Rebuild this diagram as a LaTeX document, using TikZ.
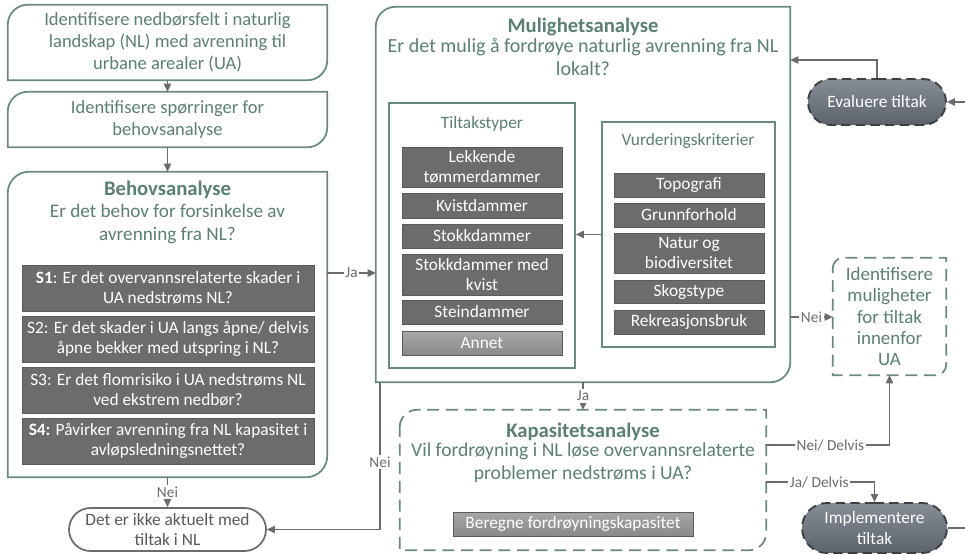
\documentclass[tikz,border=0pt]{standalone}
\usepackage{fontspec}
\setmainfont{Carlito}
\usetikzlibrary{fit,shapes.misc,arrows.meta,calc}

\definecolor{tealline}{HTML}{6A8A80}
\definecolor{tealtext}{HTML}{5A7F73}
\definecolor{itemfill}{HTML}{6C6C6C}
\definecolor{itemedge}{HTML}{5A5A5A}
\definecolor{lighttop}{HTML}{A6A6A6}
\definecolor{lightbot}{HTML}{8A8A8A}
\definecolor{connector}{HTML}{6B6B6B}
\definecolor{pilltop}{HTML}{878D95}
\definecolor{pillbot}{HTML}{5C6269}
\definecolor{pilledge}{HTML}{3C4045}
\definecolor{endtext}{HTML}{595959}

% frame with rounded top-left and bottom-right corners around node #2
\newcommand\cornerframe[3]{%
  \draw[#1] ([yshift=-#3]#2.north west) arc[start angle=180,end angle=90,radius=#3]
    -- (#2.north east) -- ([yshift=#3]#2.south east)
    arc[start angle=0,end angle=-90,radius=#3] -- (#2.south west) -- cycle;}

% node spanning the pixel rectangle (#3,#4)-(#5,#6); its text follows the call
\newcommand\pxbox[6][]{%
  \node[inner sep=0pt, #1, minimum width={(#5-#3)*0.75pt}, minimum height={(#6-#4)*0.75pt}]
    (#2) at ({(#3+#5)/2},{(#4+#6)/2})}

\begin{document}
\begin{tikzpicture}[x=0.75pt,y=-0.75pt,
  txt/.style={text=tealtext, align=center, inner sep=0pt},
  item/.style={fill=itemfill, draw=itemedge, line width=0.6pt, text=white,
    align=center, font=\fontsize{13}{15.2}\selectfont},
  lightitem/.style={item, top color=lighttop, bottom color=lightbot},
  frame/.style={draw=tealline, line width=1.3pt},
  dashframe/.style={frame, dash pattern=on 9pt off 5pt},
  pill/.style={rounded rectangle, draw=pilledge, line width=1.4pt,
    dash pattern=on 7pt off 4pt, top color=pilltop, bottom color=pillbot,
    text=white, align=center, inner sep=0pt, font=\fontsize{13}{15.2}\selectfont},
  conn/.style={draw=connector, line width=1pt},
  arr/.style={conn, -{Triangle[length=6pt,width=5.5pt]}},
  lbl/.style={fill=white, text=connector, inner sep=1.2pt, font=\fontsize{11.5}{13}\selectfont}]

\useasboundingbox (0,0) rectangle (965,554);

% ---------- left column ----------
\pxbox[txt, font=\fontsize{13.9}{16.3}\selectfont]{n1}{8}{5}{327}{80}
  {Identifisere nedbørsfelt i naturlig\\landskap (NL) med avrenning til\\urbane arealer (UA)};
\cornerframe{frame}{n1}{15pt}

\pxbox[txt, font=\fontsize{13.9}{16.3}\selectfont]{n2}{8}{92}{327}{147}
  {Identifisere spørringer for\\behovsanalyse};
\cornerframe{frame}{n2}{15pt}

\node[inner sep=0pt, fit={(8,172)(327,477)}] (nb) {};
\cornerframe{frame}{nb}{16pt}
\node[txt, font=\bfseries\fontsize{15.5}{18}\selectfont] (nbt) at (167.5,190) {Behovsanalyse};
\node[txt, font=\fontsize{14.4}{16.6}\selectfont] (nbq) at (167.5,224)
  {Er det behov for forsinkelse av\\avrenning fra NL?};

\pxbox[item]{s1}{22}{265}{314}{311} {\textbf{S1}: Er det overvannsrelaterte skader i\\UA nedstrøms NL?};
\pxbox[item]{s2}{22}{316}{314}{362} {S2: Er det skader i UA langs åpne/ delvis\\åpne bekker med utspring i NL?};
\pxbox[item]{s3}{22}{367}{314}{413} {S3: Er det flomrisiko i UA nedstrøms NL\\ved ekstrem nedbør?};
\pxbox[item]{s4}{22}{418}{314}{464} {\textbf{S4:} Påvirker avrenning fra NL kapasitet i\\avløpsledningsnettet?};

\pxbox[rounded rectangle, draw=connector, line width=1.3pt, fill=white, text=endtext,
  align=center, font=\fontsize{13}{15.2}\selectfont]{nd}{69}{508}{266}{551}
  {Det er ikke aktuelt med\\tiltak i NL};

% ---------- possibility analysis ----------
\node[inner sep=0pt, fit={(376,7)(790,382)}] (nm) {};
\cornerframe{frame}{nm}{15pt}
\node[txt, font=\bfseries\fontsize{15.5}{18}\selectfont] (nmt) at (583,27) {Mulighetsanalyse};
\node[txt, font=\fontsize{15}{17}\selectfont] (nmq) at (583,57)
  {Er det mulig å fordrøye naturlig avrenning fra NL\\lokalt?};

\node[inner sep=0pt, frame, fit={(389,103)(575,368)}] (nt) {};
\node[txt, font=\fontsize{13}{15}\selectfont] (ntt) at (482,124) {Tiltakstyper};
\pxbox[item]{t1}{402}{147}{562}{187} {Lekkende\\tømmerdammer};
\pxbox[item]{t2}{402}{193}{562}{218} {Kvistdammer};
\pxbox[item]{t3}{402}{224}{562}{248} {Stokkdammer};
\pxbox[item]{t4}{402}{254}{562}{295} {Stokkdammer med\\kvist};
\pxbox[item]{t5}{402}{300}{562}{324} {Steindammer};
\pxbox[lightitem]{t6}{402}{331}{562}{355} {Annet};

\node[inner sep=0pt, frame, fit={(602,122)(775,347)}] (nv) {};
\node[txt, font=\fontsize{13}{15}\selectfont] (nvt) at (688,141) {Vurderingskriterier};
\pxbox[item]{v1}{614}{173}{764}{197} {Topografi};
\pxbox[item]{v2}{614}{203}{764}{227} {Grunnforhold};
\pxbox[item]{v3}{614}{233}{764}{273} {Natur og\\biodiversitet};
\pxbox[item]{v4}{614}{280}{764}{303} {Skogstype};
\pxbox[item]{v5}{614}{310}{764}{334} {Rekreasjonsbruk};

\draw[arr] (nv.west) -- (nv.west -| nt.east);

% ---------- right column ----------
\pxbox[pill]{ne}{808}{79}{946}{125} {Evaluere tiltak};

\pxbox[txt, font=\fontsize{14.2}{15.8}\selectfont]{ni}{833}{258}{946}{375}
  {Identifisere\\muligheter\\for tiltak\\innenfor\\UA};
\cornerframe{dashframe}{ni}{8pt}

% ---------- capacity analysis ----------
\node[inner sep=0pt, fit={(400,410)(766,550)}] (nk) {};
\cornerframe{dashframe}{nk}{13pt}
\node[txt, font=\bfseries\fontsize{15.5}{18}\selectfont] (nkt) at (583,432) {Kapasitetsanalyse};
\node[txt, font=\fontsize{14.7}{17}\selectfont] (nkq) at (583,463)
  {Vil fordrøyning i NL løse overvannsrelaterte\\problemer nedstrøms i UA?};
\pxbox[lightitem]{nc}{453}{512}{693}{536} {Beregne fordrøyningskapasitet};

\pxbox[pill]{nim}{802}{503}{947}{553} {Implementere\\tiltak};

% ---------- connectors ----------
\coordinate (jaY) at (0,273);
\coordinate (evY) at (0,60);
\coordinate (neiY) at (0,317);
\coordinate (neiX) at (380,0);
\coordinate (ndY) at (0,445);
\coordinate (jdY) at (0,482);
\coordinate (edgeE) at (965,102);
\coordinate (edgeI) at (965,528);

\draw[arr] (n1.south) -- (n2.north);
\draw[arr] (n2.south) -- (nb.north);
\draw[arr] (nb.south) -- node[lbl] {Nei} (nd.north);
\draw[arr] (jaY -| nb.east) -- node[lbl] {Ja} (jaY -| nm.west);
\draw[arr] (neiX |- nm.south) |- node[lbl, pos=0.27] {Nei} (nd.east);
\draw[arr] (nm.south) -- node[lbl] {Ja} (nk.north);
\draw[arr] (neiY -| nm.east) -- node[lbl, pos=0.5] {Nei} (neiY -| ni.west);
\draw[arr] (ndY -| nk.east) -| node[lbl, pos=0.26] {Nei/ Delvis} (ni.south);
\draw[arr] (jdY -| nk.east) -| node[lbl, pos=0.245] {Ja/ Delvis} (nim.north);
\draw[arr] (ne.north) |- (evY -| nm.east);
\draw[arr] (edgeE) -- (ne.east);
\draw[conn] (nim.east) -- (edgeI);
\end{tikzpicture}
\end{document}
